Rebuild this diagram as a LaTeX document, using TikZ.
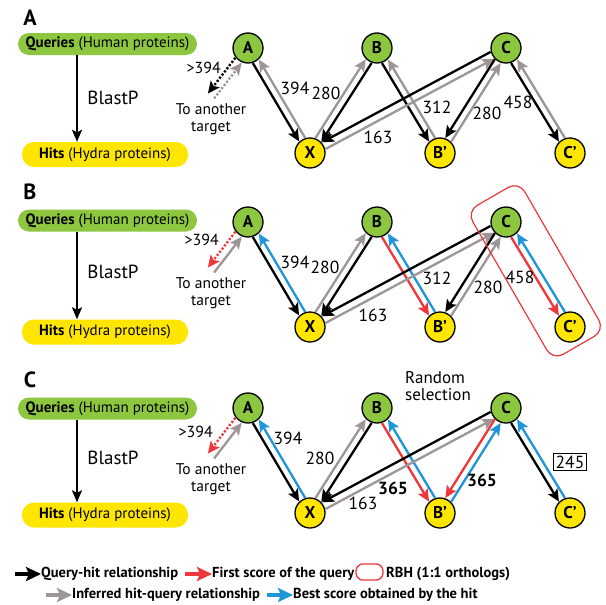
\documentclass[tikz,border=0pt]{standalone}
\usepackage{fontspec}
\setmainfont{PT Sans}
\usetikzlibrary{arrows.meta,calc}
\definecolor{qgreen}{RGB}{141,198,63}
\definecolor{hyellow}{RGB}{255,230,0}
\definecolor{ared}{RGB}{238,55,60}
\definecolor{ablue}{RGB}{30,150,215}
\definecolor{agray}{RGB}{158,150,150}
\newcommand\fs[1]{\fontsize{#1}{#1}\selectfont}
\newcommand\pairarr[5]{%
  \draw[#3] ($(#1)!#5!90:(#2)$) -- ($(#2)!#5!-90:(#1)$);
  \draw[#4] ($(#2)!#5!90:(#1)$) -- ($(#1)!#5!-90:(#2)$);}
\newcommand\panelbase[7]{%
  \node[plabel] (L#1) at (30,#7) {#6};
  \node[qbox] (Q#1) at (107.5,#3) {\textbf{Queries} (Human proteins)};
  \node[hbox] (H#1) at (105,#4) {\textbf{Hits} (Hydra proteins)};
  \coordinate (bx#1) at (77,#3);
  \draw[blast] (Q#1.south -| bx#1) -- (H#1.north -| bx#1);
  \node[txt, font=\fs{19}] (BP#1) at (113,#5) {BlastP};
  \node[qn] (A#1) at (248,48+#2) {A};
  \node[qn] (B#1) at (377,48+#2) {B};
  \node[qn] (C#1) at (506,48+#2) {C};
  \node[hn] (X#1) at (310,153+#2) {X};
  \node[hn] (Bp#1) at (440,153+#2) {B’};
  \node[hn] (Cp#1) at (570,153+#2) {C’};
  \coordinate (T#1) at ($(A#1)+(-37,48)$);
  \node[txt, align=center, font=\fs{15.5}] (TT#1) at (211,119+#2) {To another\\[2pt]target};
}
\tikzset{
  qn/.style={circle, draw, line width=1.3pt, fill=qgreen, minimum size=30pt, inner sep=0pt, font=\bfseries\fs{17}},
  hn/.style={qn, fill=hyellow},
  qbox/.style={fill=qgreen, rounded corners=11pt, minimum width=179pt, minimum height=22pt, inner sep=0pt, font=\fs{15}},
  hbox/.style={fill=hyellow, rounded corners=12pt, minimum width=166pt, minimum height=25pt, inner sep=0pt, font=\fs{15}},
  txt/.style={font=\fs{16}, inner sep=0pt},
  num/.style={font=\fs{17.5}, inner sep=0pt},
  bnum/.style={font=\bfseries\fs{17.5}, inner sep=0pt},
  plabel/.style={font=\bfseries\fs{22}, inner sep=0pt},
  tipA/.style={-{Stealth[length=12pt,width=11pt,inset=2.5pt]}},
  blast/.style={line width=1.8pt, -{Stealth[length=12pt,width=10pt,inset=2.5pt]}},
  blk/.style={line width=2.3pt, black, tipA, shorten <=15.5pt, shorten >=15.5pt},
  gry/.style={blk, agray},
  rda/.style={blk, ared},
  bla/.style={blk, ablue},
  dotl/.style={dash pattern=on 2.2pt off 1.8pt},
  legarr/.style={line width=3.2pt, -{Stealth[length=15pt,width=14pt,inset=3pt]}},
  legtxt/.style={font=\bfseries\fs{14.5}, inner sep=0pt, anchor=west},
  rbhbox/.style={draw=ared, line width=1.2pt, rounded corners=12pt, inner sep=0pt},
}
\begin{document}
\begin{tikzpicture}[x=1pt,y=-1pt]
\fill[white] (0,0) rectangle (605,605);
\useasboundingbox (0,0) rectangle (605,605);

% ---------------- Panel A
\panelbase{a}{0}{44}{154.5}{98}{A}{18}
\node[txt, anchor=east] (gta) at (221,68) {>394};
\draw[blk, dotl, shorten >=0pt] ($(Aa)!-4pt!90:(Ta)$) -- ($(Ta)!-4pt!-90:(Aa)$);
\draw[gry, dotl, shorten <=0pt] ($(Ta)!-4pt!90:(Aa)$) -- ($(Aa)!-4pt!-90:(Ta)$);
\pairarr{Aa}{Xa}{blk}{gry}{-3.5pt}
\pairarr{Ba}{Xa}{blk}{gry}{3.5pt}
\pairarr{Ba}{Bpa}{blk}{gry}{-3.5pt}
\pairarr{Ca}{Xa}{blk}{gry}{-3.8pt}
\pairarr{Ca}{Bpa}{blk}{gry}{-3.5pt}
\pairarr{Ca}{Cpa}{blk}{gry}{-3.5pt}
\node[num] (n1a) at (295,88) {394};
\node[num] (n2a) at (326,93) {280};
\node[num] (n3a) at (437,107) {312};
\node[num] (n4a) at (487,113) {280};
\node[num] (n5a) at (518,102) {458};
\node[num] (n6a) at (378,137) {163};

% ---------------- Panel B
\panelbase{b}{174}{220.5}{332}{272}{B}{192}
\node[txt, anchor=east] (gtb) at (219,240) {>394};
\draw[rda, dotl, shorten >=0pt] ($(Ab)!-4pt!90:(Tb)$) -- ($(Tb)!-4pt!-90:(Ab)$);
\draw[gry, shorten <=0pt] ($(Tb)!-4pt!90:(Ab)$) -- ($(Ab)!-4pt!-90:(Tb)$);
\pairarr{Ab}{Xb}{blk}{bla}{-3.5pt}
\pairarr{Bb}{Xb}{blk}{gry}{3.5pt}
\pairarr{Bb}{Bpb}{rda}{bla}{-3.5pt}
\pairarr{Cb}{Xb}{blk}{gry}{-3.8pt}
\pairarr{Cb}{Bpb}{blk}{gry}{-3.5pt}
\pairarr{Cb}{Cpb}{rda}{bla}{-3.5pt}
\node[num] (n1b) at (295,262) {394};
\node[num] (n2b) at (325,267) {280};
\node[num] (n3b) at (437,278) {312};
\node[num] (n4b) at (488,287) {280};
\node[num] (n5b) at (520,277) {458};
\node[num] (n6b) at (373,315) {163};
\node[rbhbox, rotate=-60, minimum width=172pt, minimum height=60pt] (rbh) at ($(Cb)!0.465!(Cpb)$) {};

% ---------------- Panel C
\panelbase{c}{360}{408.5}{515}{458}{C}{380}
\node[txt, anchor=east] (gtc) at (213,432) {>394};
\draw[rda, dotl, shorten >=0pt] ($(Ac)!-4pt!90:(Tc)$) -- ($(Tc)!-4pt!-90:(Ac)$);
\draw[gry, shorten <=0pt] ($(Tc)!-4pt!90:(Ac)$) -- ($(Ac)!-4pt!-90:(Tc)$);
\pairarr{Ac}{Xc}{blk}{bla}{-3.5pt}
\pairarr{Bc}{Xc}{blk}{gry}{3.5pt}
\pairarr{Bc}{Bpc}{rda}{bla}{-3.5pt}
\pairarr{Cc}{Xc}{blk}{gry}{-3.8pt}
\pairarr{Cc}{Bpc}{rda}{bla}{-3.5pt}
\pairarr{Cc}{Cpc}{blk}{bla}{-3.5pt}
\node[num] (n1c) at (288,438) {394};
\node[num] (n2c) at (320,458) {280};
\node[num] (n6c) at (363,503) {163};
\node[bnum] (n7c) at (393,488) {365};
\node[bnum] (n8c) at (482,480) {365};
\node[num, draw, line width=0.9pt, inner sep=2pt] (n9c) at (570,462) {245};
\node[txt, align=left, font=\fs{17}] (rs) at (438,386) {Random\\selection};

% ---------------- Legend
\coordinate (l1s) at (15,574);
\node[legtxt] (l1t) at (41,574) {Query-hit relationship};
\draw[legarr, black] (l1s) -- (l1t.west);
\coordinate (l2s) at (185,574);
\node[legtxt] (l2t) at (212,574) {First score of the query};
\draw[legarr, ared] (l2s) -- (l2t.west);
\node[draw=ared, line width=1.3pt, rounded corners=7pt, minimum width=27pt, minimum height=16pt, inner sep=0pt] (l3b) at (369.5,572) {};
\node[legtxt] (l3t) at (386,574) {RBH (1:1 orthologs)};
\coordinate (l4s) at (46,595);
\node[legtxt] (l4t) at (72,595) {Inferred hit-query relationship};
\draw[legarr, agray] (l4s) -- (l4t.west);
\coordinate (l5s) at (267,595);
\node[legtxt] (l5t) at (293,595) {Best score obtained by the hit};
\draw[legarr, ablue] (l5s) -- (l5t.west);
\end{tikzpicture}
\end{document}
